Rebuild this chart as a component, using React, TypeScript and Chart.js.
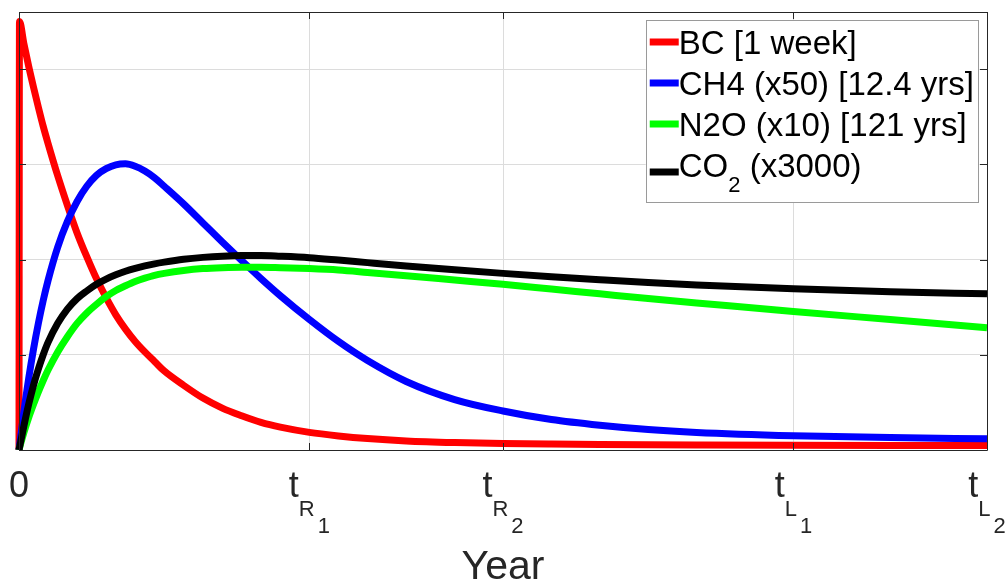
import React, { useEffect, useRef } from 'react';
import { Chart, registerables } from 'chart.js';

Chart.register(...registerables);

// ---------- data ----------
const years = [0, 0.05, 0.5, 1, 1.5, 2, 2.5, 3, 4, 5, 6, 7, 8, 9, 10, 11, 12, 13, 14, 15, 17, 19, 21, 23, 25, 27, 30, 33, 36, 40, 45, 50, 55, 60, 65, 70, 80, 90, 100];

const bcValues = [0, 4.5, 4.27, 4.03, 3.81, 3.60, 3.40, 3.22, 2.88, 2.57, 2.28, 2.03, 1.80, 1.60, 1.42, 1.27, 1.14, 1.03, 0.93, 0.83, 0.68, 0.545, 0.44, 0.36, 0.29, 0.24, 0.185, 0.148, 0.12, 0.095, 0.078, 0.068, 0.062, 0.058, 0.055, 0.053, 0.05, 0.048, 0.047];

const ch4Values = [0, 0.04, 0.40, 0.75, 1.06, 1.33, 1.57, 1.78, 2.13, 2.40, 2.61, 2.77, 2.885, 2.955, 2.995, 3.005, 2.98, 2.93, 2.86, 2.77, 2.585, 2.385, 2.185, 1.99, 1.80, 1.62, 1.37, 1.14, 0.94, 0.72, 0.53, 0.41, 0.32, 0.26, 0.215, 0.185, 0.15, 0.13, 0.118];

const n2oValues = [0, 0.02, 0.18, 0.34, 0.48, 0.61, 0.73, 0.84, 1.03, 1.19, 1.33, 1.44, 1.53, 1.61, 1.675, 1.725, 1.77, 1.805, 1.835, 1.855, 1.885, 1.905, 1.915, 1.92, 1.92, 1.915, 1.905, 1.89, 1.865, 1.83, 1.785, 1.74, 1.69, 1.64, 1.59, 1.545, 1.455, 1.37, 1.285];

const co2Values = [0, 0.025, 0.25, 0.48, 0.68, 0.85, 1.00, 1.13, 1.33, 1.48, 1.59, 1.67, 1.74, 1.795, 1.84, 1.877, 1.907, 1.933, 1.955, 1.973, 2.003, 2.023, 2.036, 2.042, 2.042, 2.035, 2.02, 1.995, 1.968, 1.933, 1.893, 1.855, 1.82, 1.788, 1.758, 1.733, 1.693, 1.663, 1.64];

const seriesLabels = ['BC [1 week]', 'CH4 (x50) [12.4 yrs]', 'N2O (x10) [121 yrs]', 'CO_2 (x3000)'];
const seriesColors = ['#ff0000', '#0000ff', '#00ff00', '#000000'];

const xTickValues = [0, 30, 50, 80, 100];
const xTickMain = ['0', 't', 't', 't', 't'];
const xTickSub = ['', 'R', 'R', 'L', 'L'];
const xTickSubSub = ['', '1', '2', '1', '2'];
const yTickValues = [0, 1, 2, 3, 4];
const xAxisTitle = 'Year';

// ---------- helpers ----------
const FONT = '"Liberation Sans", Arial, Helvetica, sans-serif';

type Seg = { t: string; sub: boolean };
function parseRich(s: string): Seg[] {
  const segs: Seg[] = [];
  let cur = '';
  for (let i = 0; i < s.length; i++) {
    if (s[i] === '_' && i + 1 < s.length) {
      if (cur) segs.push({ t: cur, sub: false });
      cur = '';
      segs.push({ t: s[i + 1], sub: true });
      i++;
    } else cur += s[i];
  }
  if (cur) segs.push({ t: cur, sub: false });
  return segs;
}

function richWidth(ctx: CanvasRenderingContext2D, s: string, size: number, subSize: number) {
  let w = 0;
  for (const seg of parseRich(s)) {
    ctx.font = `${seg.sub ? subSize : size}px ${FONT}`;
    w += ctx.measureText(seg.t).width;
  }
  return w;
}

function drawRich(ctx: CanvasRenderingContext2D, s: string, x: number, y: number, size: number, subSize: number, drop: number) {
  let cx = x;
  for (const seg of parseRich(s)) {
    ctx.font = `${seg.sub ? subSize : size}px ${FONT}`;
    ctx.fillText(seg.t, cx, seg.sub ? y + drop : y);
    cx += ctx.measureText(seg.t).width;
  }
}

const decorPlugin = {
  id: 'matlabDecor',
  afterDatasetsDraw(chart: any) {
    const { ctx, chartArea } = chart;
    const xs = chart.scales.x;
    const ys = chart.scales.y;
    const L = chartArea.left, R = chartArea.right, T = chartArea.top, B = chartArea.bottom;
    ctx.save();

    // frame + inward ticks
    ctx.strokeStyle = '#262626';
    ctx.lineWidth = 1;
    ctx.beginPath();
    ctx.rect(Math.round(L) + 0.5, Math.round(T) + 0.5, Math.round(R - L), Math.round(B - T));
    ctx.stroke();
    const tl = 7;
    ctx.beginPath();
    for (const v of xTickValues) {
      const px = Math.round(xs.getPixelForValue(v)) + 0.5;
      ctx.moveTo(px, B); ctx.lineTo(px, B - tl);
      ctx.moveTo(px, T); ctx.lineTo(px, T + tl);
    }
    for (const v of yTickValues) {
      const py = Math.round(ys.getPixelForValue(v)) + 0.5;
      ctx.moveTo(L, py); ctx.lineTo(L + tl, py);
      ctx.moveTo(R, py); ctx.lineTo(R - tl, py);
    }
    ctx.stroke();

    // legend
    const size = 33, subSize = 22;
    const dsets = chart.data.datasets;
    const widths = dsets.map((d: any) => richWidth(ctx, d.label, size, subSize));
    const maxW = Math.max(...widths);
    const sample = 29, padL = 4, padR = 4;
    const boxW = padL + sample + maxW + padR;
    const right = R - 9;
    const left = right - boxW;
    const top = T + 8;
    const rowH = 41, firstBase = 34;
    const boxH = firstBase + rowH * (dsets.length - 1) + 25;
    ctx.fillStyle = '#ffffff';
    ctx.fillRect(left, top, boxW, boxH);
    ctx.strokeStyle = '#9a9a9a';
    ctx.lineWidth = 1;
    ctx.strokeRect(Math.round(left) + 0.5, Math.round(top) + 0.5, Math.round(boxW), Math.round(boxH));
    ctx.textBaseline = 'alphabetic';
    ctx.textAlign = 'left';
    dsets.forEach((d: any, i: number) => {
      const base = top + firstBase + i * rowH;
      const hasSub = d.label.includes('_');
      const ly = base - (hasSub ? 5 : 12);
      ctx.strokeStyle = d.borderColor;
      ctx.lineWidth = 7;
      ctx.lineCap = 'butt';
      ctx.beginPath();
      ctx.moveTo(left + padL, ly);
      ctx.lineTo(left + padL + sample, ly);
      ctx.stroke();
      ctx.fillStyle = '#000000';
      drawRich(ctx, d.label, left + padL + sample, base, size, subSize, 15);
    });

    // x tick labels
    ctx.fillStyle = '#262626';
    const mSize = 36, sSize = 22;
    xTickValues.forEach((v, i) => {
      const px = xs.getPixelForValue(v);
      ctx.font = `${mSize}px ${FONT}`;
      const mw = ctx.measureText(xTickMain[i]).width;
      ctx.font = `${sSize}px ${FONT}`;
      const sw = xTickSub[i] ? ctx.measureText(xTickSub[i]).width : 0;
      const ssw = xTickSubSub[i] ? ctx.measureText(xTickSubSub[i]).width + 3 : 0;
      const total = mw + sw + ssw;
      let cx = px - total / 2;
      const base = B + 47;
      ctx.font = `${mSize}px ${FONT}`;
      ctx.fillText(xTickMain[i], cx, base);
      cx += mw;
      ctx.font = `${sSize}px ${FONT}`;
      if (xTickSub[i]) { ctx.fillText(xTickSub[i], cx, base + 19); cx += sw + 3; }
      if (xTickSubSub[i]) ctx.fillText(xTickSubSub[i], cx, base + 36);
    });

    // axis title
    ctx.font = `41px ${FONT}`;
    ctx.textAlign = 'center';
    ctx.fillText(xAxisTitle, (L + R) / 2, B + 129);
    ctx.restore();
  },
};

export default function App() {
  const canvasRef = useRef<HTMLCanvasElement | null>(null);
  useEffect(() => {
    if (!canvasRef.current) return;
    const valueSets = [bcValues, ch4Values, n2oValues, co2Values];
    const chart = new Chart(canvasRef.current, {
      type: 'line',
      data: {
        datasets: valueSets.map((vals, i) => ({
          label: seriesLabels[i],
          data: years.map((x, j) => ({ x, y: vals[j] })),
          borderColor: seriesColors[i],
          backgroundColor: seriesColors[i],
          borderWidth: 7,
          pointRadius: 0,
          fill: false,
          tension: 0,
          cubicInterpolationMode: 'monotone',
          borderJoinStyle: 'round',
          borderCapStyle: 'butt',
          clip: { left: 5, top: 5, right: 5, bottom: 0 },
          order: valueSets.length - 1 - i,
        })),
      },
      options: {
        animation: false,
        responsive: false,
        devicePixelRatio: 1,
        layout: { padding: { left: 19, right: 21, top: 12, bottom: 132 } },
        plugins: { legend: { display: false }, tooltip: { enabled: false }, title: { display: false } },
        scales: {
          x: {
            type: 'linear',
            min: 0,
            max: 100,
            ticks: { display: false },
            grid: { color: '#dcdcdc', lineWidth: 1, drawTicks: false },
            border: { display: false },
            afterBuildTicks: (s: any) => { s.ticks = xTickValues.map((v) => ({ value: v })); },
            afterFit: (s: any) => { s.height = 0; },
          },
          y: {
            type: 'linear',
            min: 0,
            max: 4.6,
            ticks: { display: false },
            grid: { color: '#dcdcdc', lineWidth: 1, drawTicks: false },
            border: { display: false },
            afterBuildTicks: (s: any) => { s.ticks = yTickValues.map((v) => ({ value: v })); },
            afterFit: (s: any) => { s.width = 0; },
          },
        },
      } as any,
      plugins: [decorPlugin],
    } as any);
    return () => chart.destroy();
  }, []);
  return (
    <div style={{ position: 'fixed', left: 0, top: 0, width: 1008, height: 582, background: '#ffffff' }}>
      <canvas ref={canvasRef} width={1008} height={582} style={{ display: 'block', width: 1008, height: 582 }} />
    </div>
  );
}
